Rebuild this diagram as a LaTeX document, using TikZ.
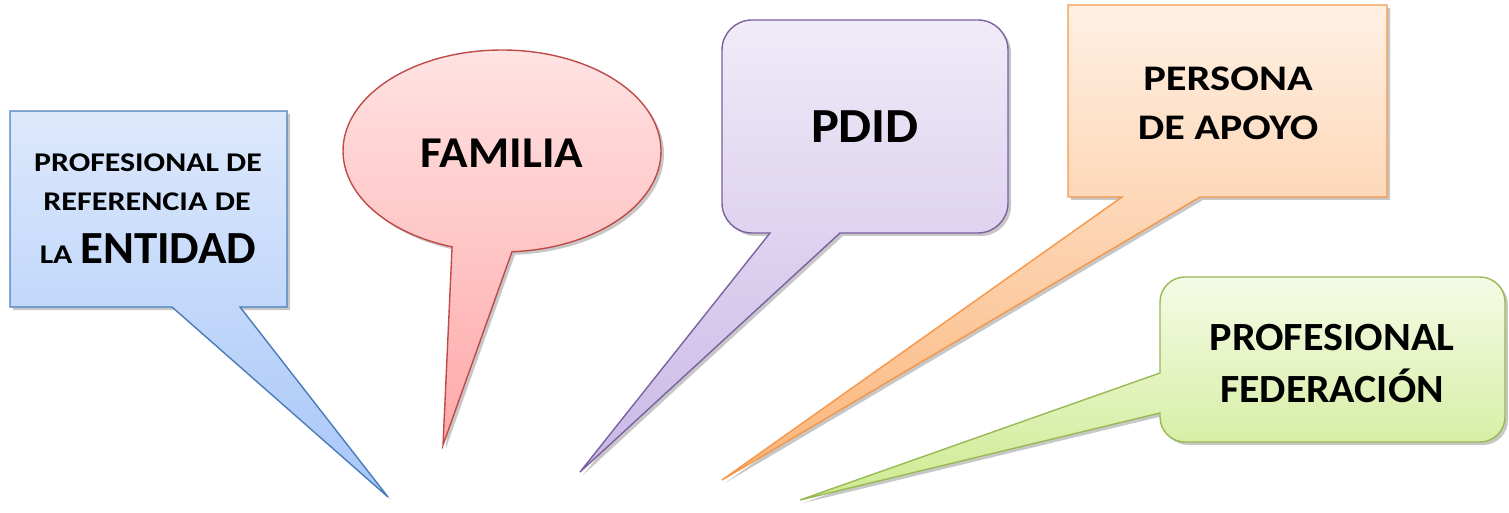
\documentclass[tikz,border=0pt]{standalone}
\usepackage{fontspec}
\setmainfont{Carlito}
\usetikzlibrary{shadows,calc}
\definecolor{bluebd}{HTML}{4A7EBB}
\definecolor{bluetop}{HTML}{DDE9FC}
\definecolor{bluebot}{HTML}{A8C6F8}
\definecolor{redbd}{HTML}{BE4B48}
\definecolor{redtop}{HTML}{FFE3E3}
\definecolor{redbot}{HTML}{FFA8A8}
\definecolor{purbd}{HTML}{7D60A0}
\definecolor{purtop}{HTML}{F0EBF8}
\definecolor{purbot}{HTML}{C9B8E6}
\definecolor{orabd}{HTML}{F79646}
\definecolor{oratop}{HTML}{FFF0E4}
\definecolor{orabot}{HTML}{FBB57A}
\definecolor{grebd}{HTML}{98B954}
\definecolor{gretop}{HTML}{F5FBE6}
\definecolor{grebot}{HTML}{CDEA90}
\newcommand{\hs}[2]{\scalebox{#1}[1]{#2}}
\tikzset{
  callout/.style={line width=1.4pt, line join=miter,
    drop shadow={shadow xshift=3pt, shadow yshift=-3pt, opacity=0.22, fill=black}},
  lbl/.style={anchor=base, inner sep=0pt, font=\bfseries},
}
\begin{document}
\begin{tikzpicture}[x=1pt,y=1pt]
\useasboundingbox (0,0) rectangle (1509,512);
% blue
\path[callout, draw=bluebd, top color=bluetop, bottom color=bluebot]
  (10,401) -- (287,401) -- (287,205) -- (240,205) -- (388,15) -- (172,205) -- (10,205) -- cycle;
% red
\path[callout, draw=redbd, top color=redtop, bottom color=redbot]
  ($(502,361)+(273.6:159 and 101)$) arc[start angle=273.6, end angle=611.7, x radius=159, y radius=101]
  -- (443,67) -- cycle;
% purple
\path[callout, draw=purbd, top color=purtop, bottom color=purbot]
  (840,279) -- (978,279) arc[start angle=-90, end angle=0, radius=30]
  -- (1008,462) arc[start angle=0, end angle=90, radius=30]
  -- (752,492) arc[start angle=90, end angle=180, radius=30]
  -- (722,309) arc[start angle=180, end angle=270, radius=30]
  -- (770,279) -- (580,40) -- cycle;
% orange
\path[callout, draw=orabd, top color=oratop, bottom color=orabot]
  (1068,507) -- (1387,507) -- (1387,315) -- (1200,315) -- (722,32) -- (1122,315) -- (1068,315) -- cycle;
% green
\path[callout, draw=grebd, top color=gretop, bottom color=grebot]
  (1160,139) -- (1160,210) arc[start angle=180, end angle=90, radius=25]
  -- (1480,235) arc[start angle=90, end angle=0, radius=25]
  -- (1505,95) arc[start angle=0, end angle=-90, radius=25]
  -- (1185,70) arc[start angle=270, end angle=180, radius=25]
  -- (1160,99) -- (800,12) -- cycle;
% texts
\node[lbl, font=\bfseries\fontsize{27}{27}\selectfont] (b1) at (148,340) {\hs{1.18}{PROFESIONAL DE}};
\node[lbl, font=\bfseries\fontsize{27}{27}\selectfont] (b2) at (147,301) {\hs{1.19}{REFERENCIA DE}};
\node[lbl, font=\bfseries\fontsize{46}{46}\selectfont] (b3) at (148,248) {\hs{1.18}{\fontsize{27}{27}\selectfont LA}\,\hs{1.02}{ENTIDAD}};
\node[lbl, font=\bfseries\fontsize{44}{44}\selectfont] (fam) at (502,344) {\hs{1.07}{FAMILIA}};
\node[lbl, font=\bfseries\fontsize{49}{49}\selectfont] (pdid) at (865,369) {\hs{1.07}{PDID}};
\node[lbl, font=\bfseries\fontsize{36}{36}\selectfont] (o1) at (1228,421) {\hs{1.18}{PERSONA}};
\node[lbl, font=\bfseries\fontsize{36}{36}\selectfont] (o2) at (1228,372) {\hs{1.17}{DE APOYO}};
\node[lbl, font=\bfseries\fontsize{40}{40}\selectfont] (g1) at (1332,162) {\hs{1.055}{PROFESIONAL}};
\node[lbl, font=\bfseries\fontsize{40}{40}\selectfont] (g2) at (1332,110) {\hs{1.045}{FEDERACIÓN}};
\end{tikzpicture}
\end{document}
